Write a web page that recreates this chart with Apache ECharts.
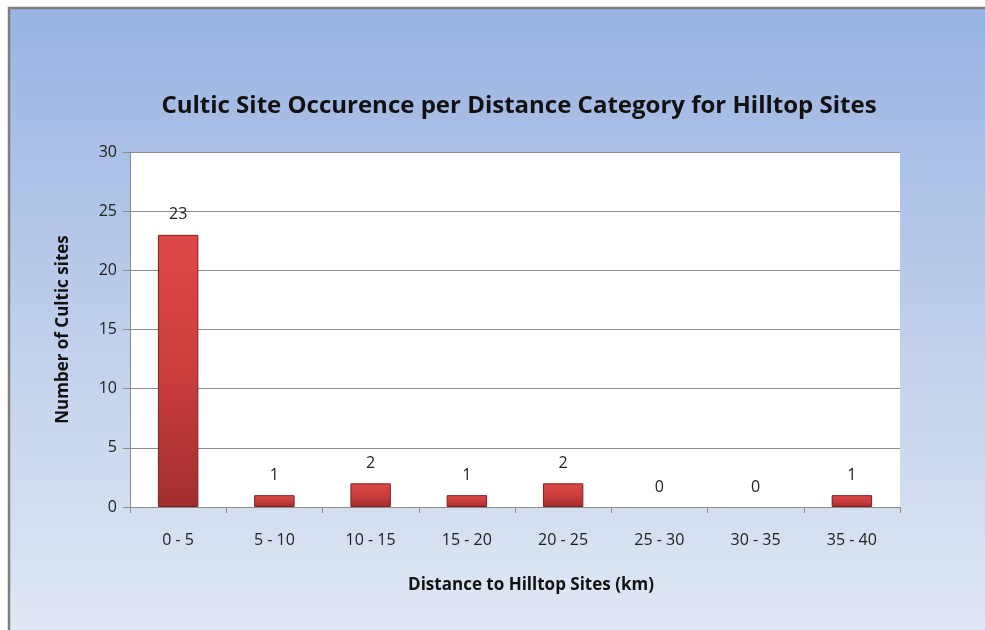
<!DOCTYPE html>
<html>
<head>
<meta charset="utf-8">
<script src="https://cdn.jsdelivr.net/npm/echarts@6/dist/echarts.min.js"></script>
<style>
  html, body { margin: 0; padding: 0; background: #fff; }
  #main { width: 985px; height: 630px; }
</style>
</head>
<body>
<div id="main"></div>
<script>
var categories = ["0 - 5", "5 - 10", "10 - 15", "15 - 20", "20 - 25", "25 - 30", "30 - 35", "35 - 40"];
var siteCounts = [23, 1, 2, 1, 2, 0, 0, 1];
var yTicks = [0, 5, 10, 15, 20, 25, 30];

var chart = echarts.init(document.getElementById("main"));
var font = "Open Sans";

// zero bars keep their label but draw no sliver
var barData = siteCounts.map(function (v) {
  if (v === 0) return { value: v, itemStyle: { color: "transparent", borderWidth: 0 } };
  return v;
});

var option = {
  animation: false,
  graphic: [{
    type: "rect",
    z: -10,
    shape: { x: 9, y: 8, width: 990, height: 640 },
    style: {
      fill: new echarts.graphic.LinearGradient(0, 0, 0, 1, [
        { offset: 0, color: "#98b3e2" },
        { offset: 0.5, color: "#bfcfeb" },
        { offset: 1, color: "#e2e9f5" }
      ]),
      stroke: "#7f7f7f",
      lineWidth: 2.5
    }
  }],
  title: {
    text: "Cultic Site Occurence per Distance Category for Hilltop Sites",
    left: 514,
    top: 89,
    textAlign: "center",
    textStyle: { fontFamily: font, fontSize: 24, fontWeight: "bold", color: "#111" }
  },
  grid: {
    left: 130,
    right: 85,
    top: 152,
    bottom: 123,
    backgroundColor: "#fff",
    show: true,
    borderWidth: 0
  },
  xAxis: {
    type: "category",
    data: categories,
    name: "Distance to Hilltop Sites (km)",
    nameLocation: "middle",
    nameGap: 70,
    nameTextStyle: { fontFamily: font, fontSize: 17, fontWeight: "bold", color: "#111", padding: [0, 0, 0, 32] },
    axisLine: { lineStyle: { color: "#8c8c8c", width: 1 } },
    axisTick: { show: true, length: 6, alignWithLabel: false, lineStyle: { color: "#8c8c8c" } },
    axisLabel: { fontFamily: font, fontSize: 16, color: "#222", margin: 25 }
  },
  yAxis: {
    type: "value",
    min: 0,
    max: 30,
    interval: 5,
    name: "Number of Cultic sites",
    nameLocation: "middle",
    nameGap: 58,
    nameTextStyle: { fontFamily: font, fontSize: 17, fontWeight: "bold", color: "#111" },
    axisLine: { show: true, lineStyle: { color: "#8c8c8c", width: 1 } },
    axisTick: { show: true, length: 7, lineStyle: { color: "#8c8c8c" } },
    axisLabel: {
      fontFamily: font, fontSize: 16, color: "#222", margin: 13,
      formatter: function (v) { return yTicks.indexOf(v) >= 0 ? String(v) : ""; }
    },
    splitLine: { show: true, lineStyle: { color: "#8c8c8c", width: 1 } }
  },
  series: [{
    type: "bar",
    data: barData,
    barWidth: "42%",
    itemStyle: {
      color: new echarts.graphic.LinearGradient(0, 0, 0, 1, [
        { offset: 0, color: "#df4848" },
        { offset: 0.5, color: "#cc3d3d" },
        { offset: 1, color: "#a12e2e" }
      ]),
      borderColor: "#7d1f1f",
      borderWidth: 1
    },
    label: {
      show: true,
      position: "top",
      distance: 12,
      fontFamily: font,
      fontSize: 16,
      color: "#222"
    }
  }]
};
chart.setOption(option);
</script>
</body>
</html>
